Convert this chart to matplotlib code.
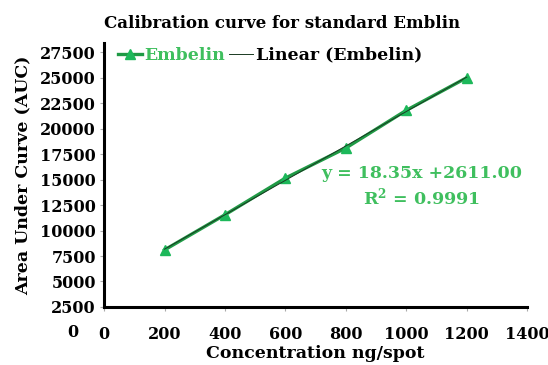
import numpy as np
import matplotlib
matplotlib.use('Agg')
import matplotlib.pyplot as plt

# data
conc = [200, 400, 600, 800, 1000, 1200]
auc = [8100, 11550, 15150, 18100, 21800, 25000]
yticks = [0, 2500, 5000, 7500, 10000, 12500, 15000, 17500, 20000, 22500, 25000, 27500]
xticks = [0, 200, 400, 600, 800, 1000, 1200, 1400]
eq_text = 'y = 18.35x +2611.00'
r2_text = 'R$^{2}$ = 0.9991'

green = '#1f9a45'
text_green = '#3fbf5e'

plt.rcParams['font.family'] = 'DejaVu Serif'
plt.rcParams['font.weight'] = 'bold'
plt.rcParams['mathtext.default'] = 'regular'

fig = plt.figure(figsize=(5.48, 3.65), dpi=100)
ax = fig.add_axes([0.190, 0.159, 0.772, 0.723])

# linear trend line fitted to the points
slope, icpt = np.polyfit(conc, auc, 1)
xs = np.array([conc[0], conc[-1]])

ax.plot(conc, auc, color=green, lw=2.4, marker='^', ms=7.5,
        markerfacecolor='#1db85a', markeredgecolor='#1db85a', label='Embelin')
ax.plot(xs, slope * xs + icpt, color='#1a3a22', lw=0.7, label='Linear (Embelin)')

ax.set_xlim(0, 1400)
ax.set_ylim(2500, 28400)
ax.set_xticks(xticks)
ax.set_yticks(yticks[1:])
ax.tick_params(axis='both', labelsize=11.5, length=3, color='#aaaaaa', width=0.8)
ax.tick_params(axis='x', pad=11)
ax.tick_params(axis='y', pad=3)
for s in ['top', 'right']:
    ax.spines[s].set_visible(False)
for s in ['left', 'bottom']:
    ax.spines[s].set_linewidth(2.2)
    ax.spines[s].set_color('black')

# the stray "0" label that sits below the x axis
ax.text(-0.061, yticks[0], '0', transform=ax.get_yaxis_transform(),
        ha='right', va='center', fontsize=11.5, fontweight='bold', clip_on=False)

fig.text(282 / 548, 1 - 23 / 365, 'Calibration curve for standard Emblin',
         ha='center', va='center', fontsize=12, fontweight='bold')
ax.set_xlabel('Concentration ng/spot', fontsize=12.5, fontweight='bold', labelpad=1)
ax.set_ylabel('Area Under Curve (AUC)', fontsize=12.5, fontweight='bold', labelpad=6)

leg = ax.legend(loc='upper left', bbox_to_anchor=(-0.005, 1.045), ncol=2, frameon=False,
                fontsize=12.5, handlelength=1.4, handletextpad=0.15, columnspacing=0.2)
leg.get_texts()[0].set_color(text_green)
leg.get_texts()[1].set_color('black')

ax.text(0.75, 0.455, eq_text + '\n' + r2_text, transform=ax.transAxes, ha='center',
        va='center', color=text_green, fontsize=12.5, fontweight='bold', linespacing=1.25)

fig.savefig('out.png', dpi=100)
